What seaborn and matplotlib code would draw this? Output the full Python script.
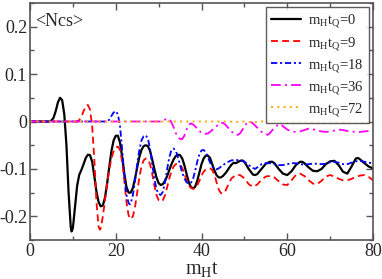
import matplotlib
matplotlib.use("Agg")
import matplotlib.pyplot as plt
import seaborn as sns
from matplotlib.ticker import MultipleLocator, FuncFormatter

# series (time in units of m_H t)
t0 = [0, 4.5, 5, 5.5, 6, 6.5, 7, 7.5, 8, 8.5, 9, 9.5, 9.7, 10, 10.5, 11, 11.5, 12, 12.5,
      13, 13.5, 14, 14.5, 15, 15.5, 16, 16.5, 17, 17.5, 18, 18.5, 19, 19.5, 20, 20.5,
      21, 21.5, 22, 22.5, 23, 23.5, 24, 24.5, 25, 25.5, 26, 26.5, 27, 27.5, 28, 28.5,
      29, 29.5, 30, 30.5, 31, 31.5, 32, 32.5, 33, 33.5, 34, 34.5, 35, 35.5, 36, 36.5,
      37, 37.5, 38, 38.5, 39, 39.5, 40, 40.5, 41, 41.5, 42, 42.5, 43, 43.5, 44, 44.5,
      45, 45.5, 46, 46.5, 47, 47.5, 48, 49, 49.5, 50, 51, 52, 52.5, 53, 54, 55, 56,
      56.5, 57, 58, 59, 60, 61, 62, 63, 63.5, 64, 65, 66, 67, 68, 69, 70, 71, 72, 73,
      74, 75, 76, 76.5, 77, 78, 79, 80]
ncs0 = [0, 0, 0.002, 0.008, 0.022, 0.040, 0.050, 0.045, 0.015, -0.050, -0.150, -0.222,
        -0.232, -0.225, -0.180, -0.135, -0.112, -0.102, -0.090, -0.077, -0.070, -0.071,
        -0.085, -0.115, -0.148, -0.170, -0.179, -0.177, -0.160, -0.130, -0.095, -0.062,
        -0.040, -0.030, -0.030, -0.045, -0.075, -0.110, -0.138, -0.150, -0.150, -0.140,
        -0.120, -0.097, -0.075, -0.060, -0.052, -0.050, -0.052, -0.062, -0.080, -0.100,
        -0.118, -0.130, -0.134, -0.132, -0.125, -0.115, -0.102, -0.090, -0.080, -0.073,
        -0.070, -0.071, -0.078, -0.092, -0.110, -0.127, -0.138, -0.141, -0.138, -0.125,
        -0.108, -0.090, -0.078, -0.072, -0.072, -0.077, -0.090, -0.103, -0.113, -0.118,
        -0.118, -0.115, -0.110, -0.104, -0.097, -0.091, -0.087, -0.088, -0.083, -0.082,
        -0.085, -0.100, -0.112, -0.113, -0.111, -0.100, -0.089, -0.085, -0.085, -0.088,
        -0.100, -0.110, -0.113, -0.105, -0.092, -0.085, -0.085, -0.088, -0.097, -0.104,
        -0.105, -0.100, -0.090, -0.084, -0.083, -0.092, -0.106, -0.110, -0.095, -0.078,
        -0.077, -0.080, -0.088, -0.095, -0.099]

t9 = [0, 11, 11.5, 12, 12.5, 13, 13.5, 14, 14.5, 15, 15.5, 16, 16.3, 16.5, 17, 17.5, 18,
      18.5, 19, 19.5, 20, 20.5, 21, 21.5, 22, 22.5, 23, 23.5, 24, 24.5, 25, 25.5, 26,
      26.5, 27, 27.5, 28, 28.5, 29, 29.5, 30, 30.5, 31, 31.5, 32, 32.5, 33, 33.5, 34,
      34.5, 35, 35.5, 36, 36.5, 37, 37.5, 38, 38.5, 39, 39.5, 40, 40.5, 41, 41.5, 42,
      42.5, 43, 43.5, 44, 44.5, 45, 45.5, 46, 46.5, 47, 48, 49, 50, 51, 52, 53, 54, 55,
      56, 57, 58, 59, 60, 61, 62, 63, 64, 65, 66, 67, 68, 69, 70, 71, 72, 73, 74, 75,
      76, 77, 78, 79, 80]
ncs9 = [0, 0, 0.003, 0.010, 0.022, 0.032, 0.035, 0.025, -0.010, -0.080, -0.170, -0.222,
        -0.228, -0.225, -0.200, -0.165, -0.130, -0.100, -0.078, -0.063, -0.055, -0.053,
        -0.060, -0.085, -0.125, -0.170, -0.198, -0.206, -0.200, -0.180, -0.150, -0.118,
        -0.095, -0.082, -0.078, -0.080, -0.090, -0.110, -0.135, -0.155, -0.166, -0.169,
        -0.166, -0.155, -0.138, -0.120, -0.105, -0.095, -0.090, -0.089, -0.091, -0.098,
        -0.110, -0.123, -0.134, -0.140, -0.142, -0.141, -0.135, -0.125, -0.114, -0.106,
        -0.101, -0.099, -0.099, -0.102, -0.112, -0.128, -0.143, -0.151, -0.152, -0.148,
        -0.138, -0.128, -0.120, -0.113, -0.113, -0.120, -0.132, -0.138, -0.133, -0.123,
        -0.116, -0.115, -0.118, -0.126, -0.133, -0.134, -0.124, -0.113, -0.110, -0.115,
        -0.124, -0.131, -0.132, -0.125, -0.116, -0.113, -0.116, -0.121, -0.124, -0.124,
        -0.121, -0.117, -0.114, -0.113, -0.117, -0.124]

t18 = [0, 18, 18.5, 19, 19.5, 20, 20.5, 21, 21.5, 22, 22.5, 23, 23.3, 23.5, 24, 24.5, 25,
       25.5, 26, 26.5, 27, 27.5, 28, 28.5, 29, 29.5, 30, 30.5, 31, 31.5, 32, 32.5, 33,
       33.5, 34, 34.5, 35, 35.5, 36, 36.5, 37, 37.5, 38, 38.5, 39, 39.5, 40, 40.5, 41,
       41.5, 42, 42.5, 43, 43.5, 44, 45, 46, 47, 48, 49, 50, 51, 52, 52.5, 53, 54, 55,
       56, 57, 58, 59, 60, 61, 62, 63, 64, 65, 66, 67, 68, 69, 70, 71, 72, 73, 74, 75,
       76, 77, 78, 79, 80]
ncs18 = [0, 0, 0.004, 0.012, 0.019, 0.022, 0.015, -0.010, -0.060, -0.115, -0.155, -0.172,
         -0.175, -0.172, -0.155, -0.125, -0.090, -0.060, -0.040, -0.031, -0.029, -0.036,
         -0.058, -0.090, -0.120, -0.143, -0.153, -0.155, -0.148, -0.128, -0.100, -0.075,
         -0.060, -0.057, -0.062, -0.075, -0.092, -0.108, -0.120, -0.128, -0.131, -0.130,
         -0.122, -0.105, -0.085, -0.069, -0.061, -0.060, -0.065, -0.075, -0.087, -0.095,
         -0.100, -0.101, -0.099, -0.092, -0.086, -0.082, -0.081, -0.082, -0.085, -0.092,
         -0.098, -0.100, -0.097, -0.090, -0.088, -0.088, -0.090, -0.092, -0.092, -0.090,
         -0.088, -0.088, -0.090, -0.091, -0.090, -0.089, -0.089, -0.090, -0.089, -0.086,
         -0.085, -0.087, -0.090, -0.090, -0.087, -0.084, -0.083, -0.085, -0.087, -0.088]

t36 = [0, 30.5, 31, 31.5, 32, 32.5, 33, 33.5, 34, 34.5, 35, 35.5, 36, 36.5, 37, 37.5, 38,
       38.5, 39, 39.5, 40, 40.5, 41, 41.5, 42, 42.5, 43, 43.5, 44, 44.5, 45, 45.5, 46,
       46.5, 47, 47.5, 48, 48.5, 49, 49.5, 50, 50.5, 51, 51.5, 52, 53, 54, 55, 55.5, 56,
       57, 58, 58.5, 59, 60, 61, 62, 63, 64, 65, 66, 67, 68, 69, 70, 71, 72, 73, 74, 75,
       76, 77, 78, 79, 80]
ncs36 = [0, 0, 0.001, 0.004, 0.006, 0.005, -0.002, -0.012, -0.024, -0.033, -0.037, -0.037,
         -0.030, -0.017, -0.007, -0.004, -0.006, -0.010, -0.015, -0.020, -0.024, -0.026,
         -0.026, -0.025, -0.022, -0.018, -0.014, -0.010, -0.006, -0.003, -0.003, -0.006,
         -0.011, -0.016, -0.021, -0.025, -0.028, -0.028, -0.025, -0.018, -0.010, -0.004,
         -0.001, -0.001, -0.004, -0.013, -0.022, -0.027, -0.028, -0.024, -0.013, -0.006,
         -0.006, -0.010, -0.017, -0.021, -0.022, -0.021, -0.018, -0.015, -0.016, -0.019,
         -0.021, -0.022, -0.021, -0.019, -0.017, -0.018, -0.020, -0.021, -0.022, -0.022,
         -0.021, -0.020, -0.019]

t72 = [0, 44, 46, 48, 50, 52, 54, 56, 58, 60, 62, 64, 66, 68, 70, 72, 74, 76, 78, 80]
ncs72 = [0, 0, 0.0, -0.001, 0.0, -0.002, 0.0, 0.001, -0.001, -0.003, -0.001, 0.0, -0.001,
         -0.003, -0.002, -0.001, -0.002, -0.003, -0.002, -0.002]

labels = [r"m$_\mathrm{H}$t$_\mathrm{Q}$=0", r"m$_\mathrm{H}$t$_\mathrm{Q}$=9",
          r"m$_\mathrm{H}$t$_\mathrm{Q}$=18", r"m$_\mathrm{H}$t$_\mathrm{Q}$=36",
          r"m$_\mathrm{H}$t$_\mathrm{Q}$=72"]

sns.set_style("ticks")
plt.rcParams["font.family"] = ["Liberation Serif", "DejaVu Serif"]
plt.rcParams["mathtext.fontset"] = "custom"
plt.rcParams["mathtext.rm"] = "Liberation Serif"
plt.rcParams["mathtext.it"] = "Liberation Serif:italic"
plt.rcParams["axes.unicode_minus"] = False
plt.rcParams["lines.scale_dashes"] = False

fig = plt.figure(figsize=(3.82, 2.79), dpi=100)
ax = fig.add_axes([30 / 382, 39 / 279, 343 / 382, 237 / 279])

series = [
    (t0, ncs0, "black", "-", 1.6),
    (t9, ncs9, "#ff0000", (0, (5, 3)), 1.3),
    (t18, ncs18, "#0000ff", (0, (4.5, 2, 1.5, 2)), 1.3),
    (t36, ncs36, "#ff00ff", (0, (7, 3, 1.5, 3)), 1.3),
    (t72, ncs72, "#ffa500", (0, (1.5, 3)), 1.3),
]
for (tt, yy, col, ls, lw), lab in zip(series, labels):
    sns.lineplot(x=tt, y=yy, ax=ax, color=col, linestyle=ls, linewidth=lw,
                 label=lab, sort=False, estimator=None)

ax.set_xlim(0, 80)
ax.set_ylim(-0.25, 0.25)
ax.xaxis.set_major_locator(MultipleLocator(20))
ax.xaxis.set_minor_locator(MultipleLocator(10))
ax.yaxis.set_major_locator(MultipleLocator(0.1))
ax.yaxis.set_minor_locator(MultipleLocator(0.05))
ax.yaxis.set_major_formatter(FuncFormatter(lambda v, p: "0" if abs(v) < 1e-9 else f"{v:.1f}"))
ax.tick_params(which="both", direction="in", top=True, right=True, labelsize=13,
               width=1, color="#555555", pad=2)
ax.tick_params(which="major", length=5)
ax.tick_params(which="minor", length=3)
for s in ax.spines.values():
    s.set_linewidth(1.2)
    s.set_color("#555555")

ax.set_xlabel(r"m$_\mathrm{H}$t", fontsize=14.5, labelpad=0.5)
ax.set_ylabel("")
ax.text(1.3, 0.212, "<Ncs>", fontsize=13, va="center", ha="left")

leg = ax.legend(loc="upper right", fontsize=10.5, frameon=True, fancybox=False,
                handlelength=2.0, labelspacing=0.35, borderaxespad=0.3,
                handletextpad=0.5, borderpad=0.35)
leg.get_frame().set_edgecolor("#333333")
leg.get_frame().set_linewidth(1.0)

fig.savefig("out.png", dpi=100)
